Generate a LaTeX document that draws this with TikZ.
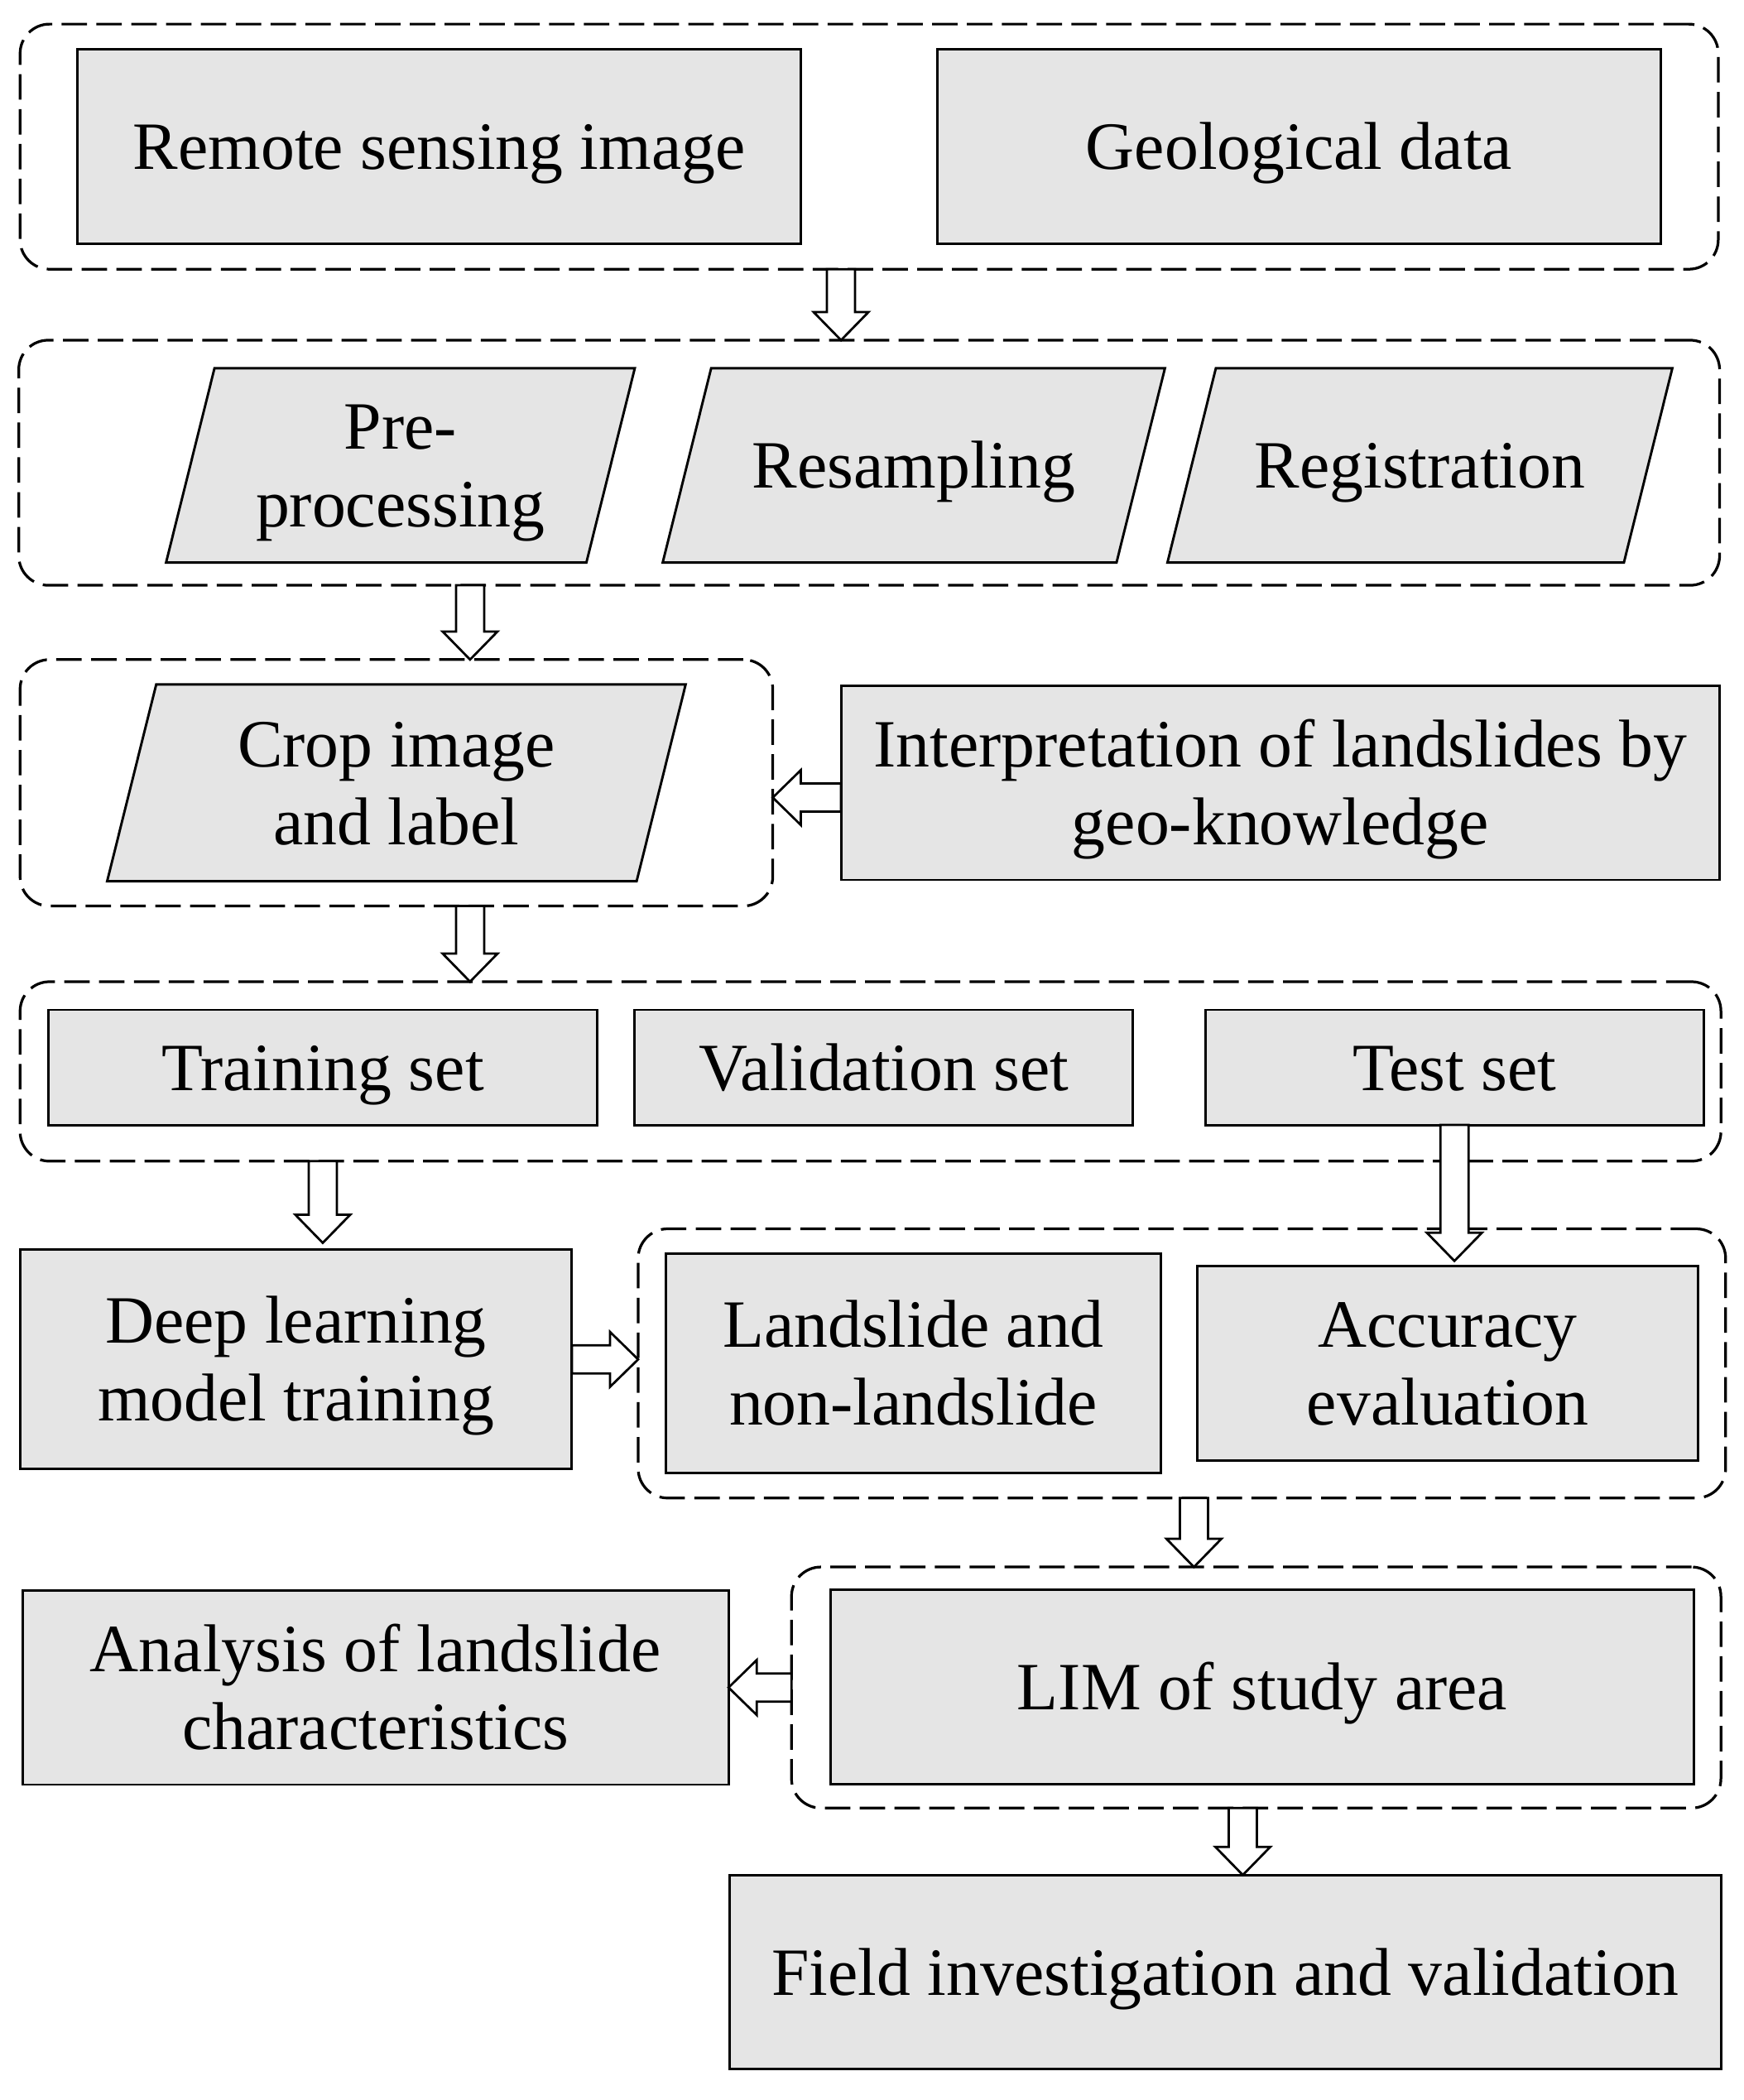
\documentclass[tikz,border=0pt]{standalone}
\usepackage{fontspec}
\setmainfont{Liberation Serif}
\usetikzlibrary{positioning, shapes.geometric, fit, calc}

\definecolor{boxgray}{RGB}{229,229,229}
% puntal con la altura y profundidad de la fuente
\newcommand{\txtstrut}{\rule[-11pt]{0pt}{56pt}}

\begin{document}
\begin{tikzpicture}[
    x=1pt, y=-1pt,
    box/.style={
        draw=black, fill=boxgray, rectangle, line width=1.8pt,
        outer sep=0pt, inner sep=4pt, align=center,
        font=\fontsize{50.5}{58}\selectfont
    },
    para/.style={
        box, trapezium, trapezium left angle=76, trapezium right angle=104,
        trapezium stretches body, inner ysep=#1
    },
    para/.default=44.5pt,
    group/.style={
        draw=black, dashed, dash pattern=on 19pt off 7pt, line width=2pt,
        rounded corners=22pt, rectangle, outer sep=0pt, inner sep=0pt
    },
    blk/.style={
        draw=black, fill=white, line width=1.7pt, line join=miter,
        to path={
            let \p1=(\tikztostart), \p2=(\tikztotarget) in
            ($(\p1)!10.5pt!90:(\p2)$)
            -- ($(\p2)!21pt!(\p1)!10.5pt!-90:(\p1)$)
            -- ($(\p2)!21pt!(\p1)!20.5pt!-90:(\p1)$)
            -- (\p2)
            -- ($(\p2)!21pt!(\p1)!20.5pt!90:(\p1)$)
            -- ($(\p2)!21pt!(\p1)!10.5pt!90:(\p1)$)
            -- ($(\p1)!10.5pt!-90:(\p2)$)
            -- cycle
        }
    }
]

\useasboundingbox (0,0) rectangle (1302,1568);

% ------------------------------------------------------------------------------
% 1. DATOS DE ENTRADA
% ------------------------------------------------------------------------------
\node[box, minimum width=540pt, minimum height=145pt] (rsi) at (328,109.5) {\txtstrut Remote sensing image};
\node[box, minimum width=540pt, minimum height=145pt, right=102pt of rsi] (geo) {\txtstrut Geological data};
\node[group, fit=(rsi)(geo), inner xsep=43pt, inner ysep=19pt] (g1) {};

% ------------------------------------------------------------------------------
% 2. PREPROCESAMIENTO
% ------------------------------------------------------------------------------
\node[para=15.5pt, minimum width=350pt] (pre) at (299,347.5) {\txtstrut Pre-\\processing\txtstrut};
\node[para, minimum width=375pt, right=57pt of pre] (res) {\txtstrut Resampling};
\node[para, minimum width=377pt, right=38pt of res] (reg) {\txtstrut Registration};
\node[group, minimum width=1270pt, minimum height=183pt, below=53pt of g1] (g2) {};

% ------------------------------------------------------------------------------
% 3. RECORTE E INTERPRETACION
% ------------------------------------------------------------------------------
\node[para=16.5pt, minimum width=432pt] (crop) at (296,584.5) {\txtstrut Crop image\\and label\txtstrut};
\node[group, minimum width=562pt, minimum height=184pt] (g3) at (crop) {};
\node[box, minimum width=656pt, minimum height=145pt, right=51pt of g3] (interp) {\txtstrut Interpretation of landslides by\\geo-knowledge\txtstrut};

% ------------------------------------------------------------------------------
% 4. CONJUNTOS DE DATOS
% ------------------------------------------------------------------------------
\node[box, minimum width=410pt, minimum height=86pt] (train) at (241,797) {\txtstrut Training set};
\node[box, minimum width=372pt, minimum height=86pt, right=28pt of train] (valid) {\txtstrut Validation set};
\node[box, minimum width=372pt, minimum height=86pt, right=54pt of valid] (test) {\txtstrut Test set};
\node[group, minimum width=1270pt, minimum height=134pt] (g4) at (650,800) {};

% ------------------------------------------------------------------------------
% 5. ENTRENAMIENTO Y EVALUACION
% ------------------------------------------------------------------------------
\node[box, minimum width=412pt, minimum height=164pt] (deep) at (221,1015) {\txtstrut Deep learning\\model training\txtstrut};
\node[box, minimum width=370pt, minimum height=164pt] (land) at (682,1018) {\txtstrut Landslide and\\non-landslide\txtstrut};
\node[box, minimum width=374pt, minimum height=145pt, right=27pt of land] (acc) {\txtstrut Accuracy\\evaluation\txtstrut};
\node[group, fit=(land)(acc), inner xsep=20.5pt, inner ysep=18.5pt] (g5) {};

% ------------------------------------------------------------------------------
% 6. INVENTARIO Y ANALISIS
% ------------------------------------------------------------------------------
\node[box, minimum width=645pt, minimum height=145pt] (lim) at (942.5,1259.5) {\txtstrut LIM of study area};
\node[group, minimum width=694pt, minimum height=180pt] (g6) at (938,1260) {};
\node[box, minimum width=527pt, minimum height=145pt, left=47pt of g6] (anal) {\txtstrut Analysis of landslide\\characteristics\txtstrut};
\node[box, minimum width=740pt, minimum height=145pt] (field) at (915,1472.5) {\txtstrut Field investigation and validation};

% ------------------------------------------------------------------------------
% 7. FLECHAS (bloques huecos)
% ------------------------------------------------------------------------------
\draw[blk] ([xshift=-21pt]g1.south) to ([xshift=-21pt]g2.north);
\draw[blk] ([xshift=55pt]g3.north |- g2.south) to ([xshift=55pt]g3.north);
\draw[blk] ([yshift=-11pt]interp.west) to ([yshift=-11pt]interp.west -| g3.east);
\draw[blk] ([xshift=55pt]g3.south) to ([xshift=55pt]g3.south |- g4.north);
\draw[blk] (train.south |- g4.south) to ([yshift=5pt]deep.north -| train.south);
\draw[blk] (test.south) to ([yshift=4pt]acc.north -| test.south);
\draw[blk] (deep.east) to (deep.east -| g5.west);
\draw[blk] ([xshift=9pt]g5.south) to ([xshift=9pt]g5.south |- g6.north);
\draw[blk] (anal.east -| g6.west) to (anal.east);
\draw[blk] ([xshift=13pt]field.north |- g6.south) to ([xshift=13pt]field.north);

\end{tikzpicture}
\end{document}
